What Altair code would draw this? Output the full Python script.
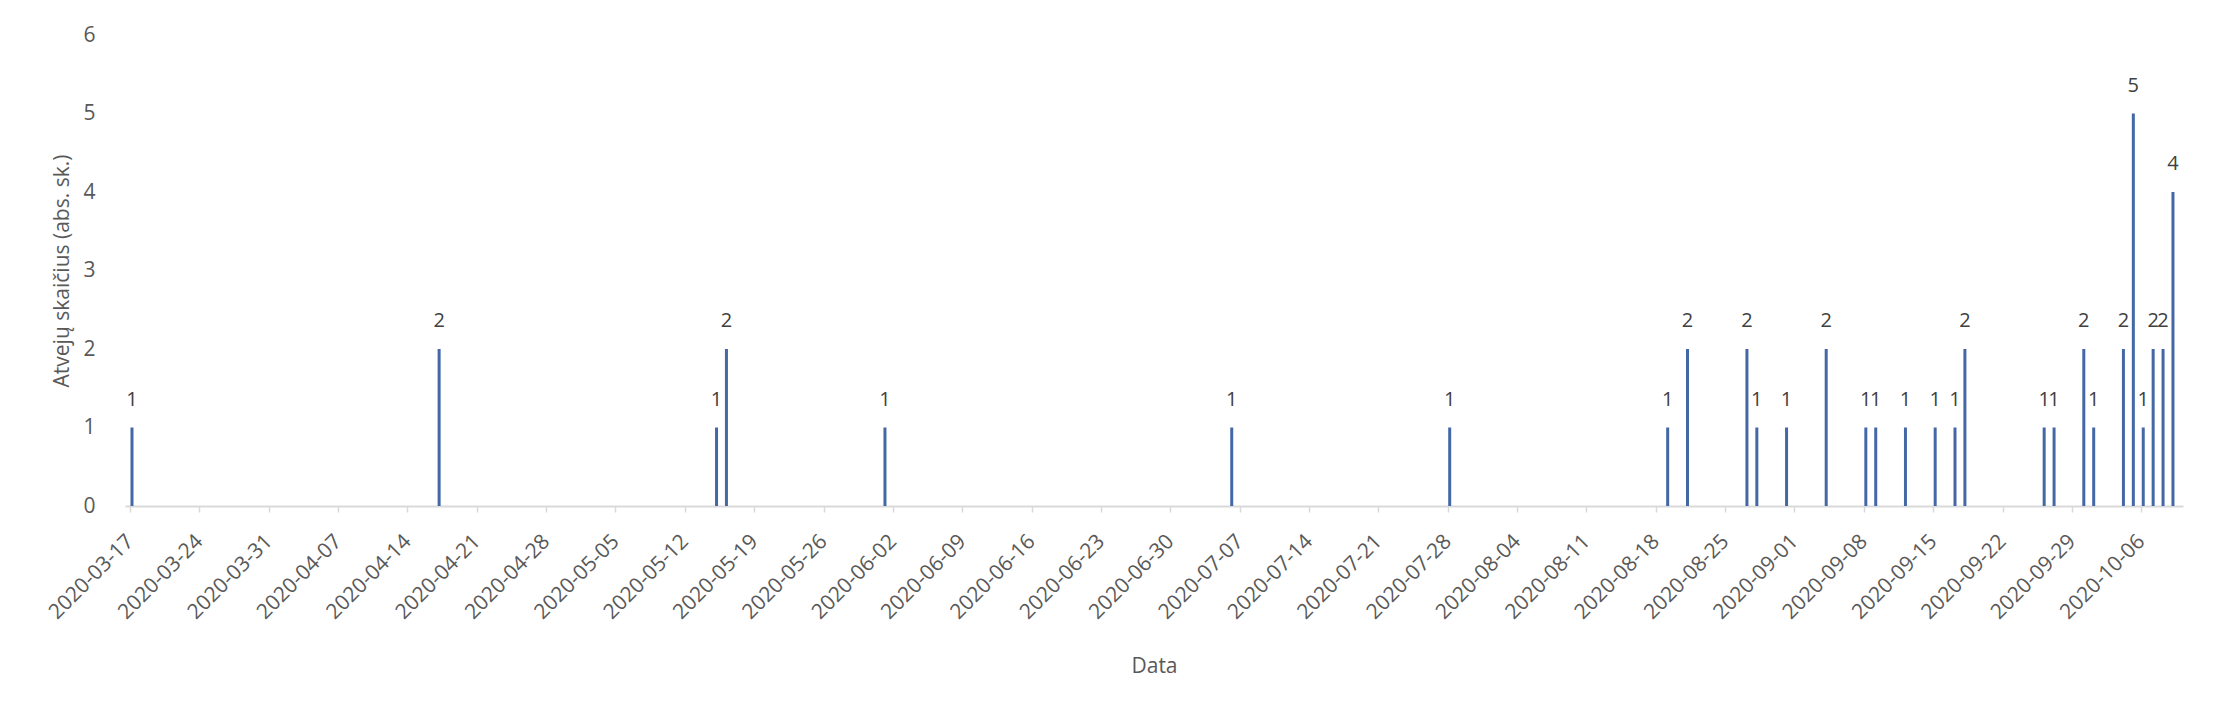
import altair as alt
import pandas as pd

# Data
dates = [
    "2020-03-17", "2020-04-17", "2020-05-15", "2020-05-16", "2020-06-01",
    "2020-07-06", "2020-07-28", "2020-08-19", "2020-08-21", "2020-08-27",
    "2020-08-28", "2020-08-31", "2020-09-04", "2020-09-08", "2020-09-09",
    "2020-09-12", "2020-09-15", "2020-09-17", "2020-09-18", "2020-09-26",
    "2020-09-27", "2020-09-30", "2020-10-01", "2020-10-04", "2020-10-05",
    "2020-10-06", "2020-10-07", "2020-10-08", "2020-10-09",
]
counts = [
    1, 2, 1, 2, 1,
    1, 1, 1, 2, 2,
    1, 1, 2, 1, 1,
    1, 1, 1, 2, 1,
    1, 2, 1, 2, 5,
    1, 2, 2, 4,
]
tick_dates = [
    "2020-03-17", "2020-03-24", "2020-03-31", "2020-04-07", "2020-04-14",
    "2020-04-21", "2020-04-28", "2020-05-05", "2020-05-12", "2020-05-19",
    "2020-05-26", "2020-06-02", "2020-06-09", "2020-06-16", "2020-06-23",
    "2020-06-30", "2020-07-07", "2020-07-14", "2020-07-21", "2020-07-28",
    "2020-08-04", "2020-08-11", "2020-08-18", "2020-08-25", "2020-09-01",
    "2020-09-08", "2020-09-15", "2020-09-22", "2020-09-29", "2020-10-06",
]
domain_start = "2020-03-17"
domain_end = "2020-10-09"
y_ticks = [0, 1, 2, 3, 4, 5, 6]


def dt(s, hours=0):
    y, m, d = (int(p) for p in s.split("-"))
    return alt.DateTime(year=y, month=m, date=d, hours=hours, utc=True)


df = pd.DataFrame({"date": dates, "count": counts})

FONT = "Open Sans"
GRAY = "#595959"
BAR = "#4468A6"

x_enc = alt.X(
    "t:T",
    scale=alt.Scale(type="utc", domain=[dt(domain_start), dt(domain_end, 17)]),
    axis=alt.Axis(
        values=[dt(s) for s in tick_dates],
        format="%Y-%m-%d",
        labelAngle=-45,
        labelAlign="right",
        labelBaseline="middle",
        labelPadding=26,
        labelFontSize=21,
        labelColor=GRAY,
        labelFont=FONT,
        labelOverlap=False,
        labelFlush=False,
        tickSize=6,
        tickColor="#D9D9D9",
        tickWidth=1.5,
        domainColor="#D9D9D9",
        domainWidth=2,
        grid=False,
        title="Data",
        titleFont=FONT,
        titleFontSize=21,
        titleFontWeight="normal",
        titleColor=GRAY,
        titleX=1029,
        titleY=160,
        titleBaseline="middle",
    ),
)

y_enc = alt.Y(
    "count:Q",
    scale=alt.Scale(domain=[0, 6], nice=False),
    axis=alt.Axis(
        values=y_ticks,
        format="d",
        domain=False,
        ticks=False,
        grid=False,
        labelPadding=30,
        labelFontSize=21,
        labelColor=GRAY,
        labelFont=FONT,
        title="Atvejų skaičius (abs. sk.)",
        titleFont=FONT,
        titleFontSize=21,
        titleFontWeight="normal",
        titleColor=GRAY,
        titleX=-63,
        titleY=235.5,
        titleBaseline="middle",
    ),
)

base = alt.Chart(df).transform_calculate(
    t="toDate(datum.date) + 17280000"
)

bars = base.mark_bar(width=3, color=BAR).encode(x=x_enc, y=y_enc)

labels = base.mark_text(
    dy=-22, baseline="alphabetic", align="center", fontSize=20, font=FONT, color="#404040"
).encode(x=alt.X("t:T"), y=alt.Y("count:Q"), text=alt.Text("count:Q"))

chart = (
    alt.layer(bars, labels)
    .properties(
        width=2058,
        height=471,
        padding={"left": 117, "top": 27, "right": 46, "bottom": 206},
        autosize=alt.AutoSizeParams(type="none"),
        background="white",
    )
    .configure_view(stroke=None)
)

chart.save("out.html", embed_options={"renderer": "svg", "actions": False})
